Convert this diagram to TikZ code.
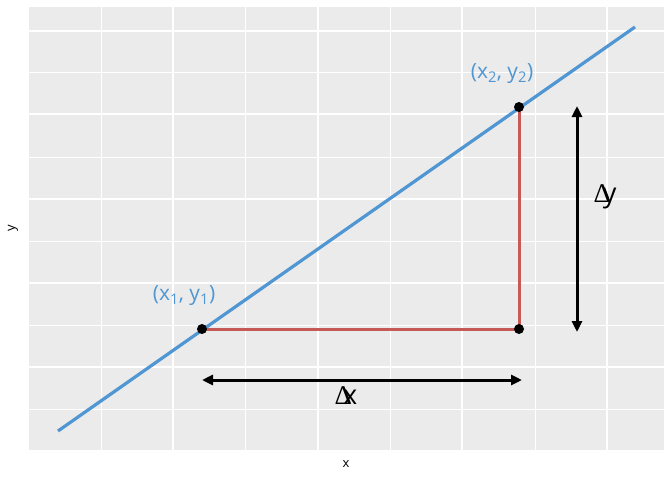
\documentclass[tikz,border=0pt]{standalone}
\usepackage{fontspec}
\setmainfont{Open Sans}
\newfontfamily\deltafont{Liberation Serif}
\usetikzlibrary{arrows.meta}
\definecolor{panel}{HTML}{EBEBEB}
\definecolor{lineblue}{HTML}{4F96D2}
\definecolor{segred}{HTML}{C65A57}
\tikzset{
  majorgrid/.style={white, line width=1.6pt},
  minorgrid/.style={white, line width=0.8pt},
  bluelabel/.style={text=lineblue, font=\fontsize{21}{24}\selectfont, inner sep=0pt},
  deltalabel/.style={font=\fontsize{27}{30}\selectfont, inner sep=0pt},
  axtitle/.style={font=\fontsize{13}{15}\selectfont, inner sep=0pt},
  dot/.style={circle, fill=black, minimum size=10pt, inner sep=0pt},
  dblarrow/.style={black, line width=3pt, {Triangle[length=11pt,width=10pt]}-{Triangle[length=11pt,width=10pt]}},
  segment/.style={segred, line width=3pt},
}
\begin{document}
\begin{tikzpicture}[x=1pt,y=-1pt]
\useasboundingbox (0,0) rectangle (672,480);
\fill[white] (0,0) rectangle (672,480);
\fill[panel] (29,7) rectangle (664,450);
% minor grid
\foreach \gx in {101,245,390,535} \draw[minorgrid] (\gx,7) -- (\gx,450);
\foreach \gy in {72,157,241,325,409} \draw[minorgrid] (29,\gy) -- (664,\gy);
% major grid
\foreach \gx in {173,318,462,607} \draw[majorgrid] (\gx,7) -- (\gx,450);
\foreach \gy in {31,114,199,283,367} \draw[majorgrid] (29,\gy) -- (664,\gy);
% coordinates
\coordinate (L0) at (58,431);
\coordinate (L1) at (635,27);
\coordinate (P1) at (202,329);
\coordinate (P2) at (519,107);
\coordinate (C) at (519,329);
\coordinate (XA) at (202,380);
\coordinate (XB) at (522,380);
\coordinate (YA) at (577,106);
\coordinate (YB) at (577,332);
% blue line
\draw[lineblue, line width=3.2pt] (L0) -- (L1);
% red segments
\draw[segment] (P1) -- (C) -- (P2);
% points
\node[dot] (d1) at (P1) {};
\node[dot] (d2) at (P2) {};
\node[dot] (d3) at (C) {};
% arrows
\draw[dblarrow] (XA) -- (XB);
\draw[dblarrow] (YA) -- (YB);
% labels
\node[bluelabel] (lab1) at (184,296) {(x\textsubscript{1}, y\textsubscript{1})};
\node[bluelabel] (lab2) at (502,74) {(x\textsubscript{2}, y\textsubscript{2})};
\node[deltalabel] (dx) at (346,396) {{\deltafont Δ}\kern-9pt x};
\node[deltalabel] (dy) at (605,197) {{\deltafont Δ}\kern-8pt y};
\node[axtitle] (xt) at (346,464) {x};
\node[axtitle, rotate=90] (yt) at (13,228) {y};
\end{tikzpicture}
\end{document}
